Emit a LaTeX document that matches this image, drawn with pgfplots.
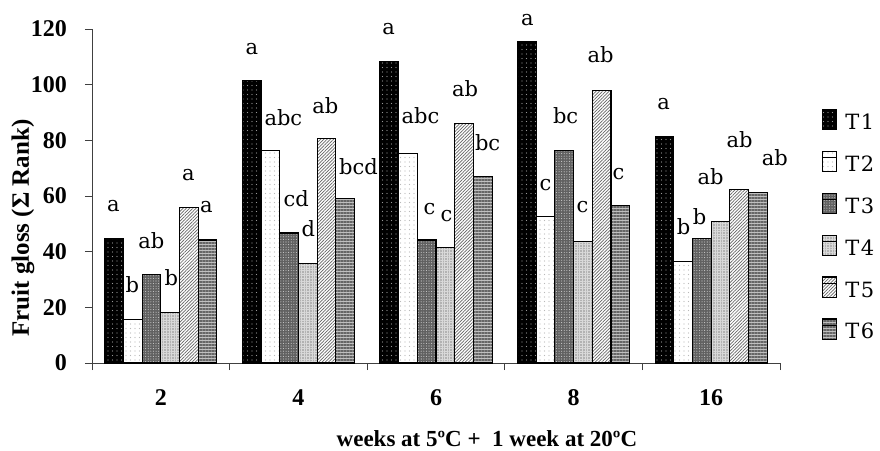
\documentclass[border=0pt]{standalone}
\usepackage{fontspec}
\setmainfont{Liberation Serif}
\newfontfamily\lblfont{DejaVu Serif}
\usepackage{pgfplots}
\pgfplotsset{compat=1.18}
\usetikzlibrary{patterns.meta}
\tikzset{lbl/.style={font=\lblfont\fontsize{21}{21}\selectfont, anchor=base, inner sep=0pt}}

\begin{document}
\begin{tikzpicture}[x=1pt,y=1pt]
\useasboundingbox (0,0) rectangle (880,450);
\begin{axis}[
  at={(92pt,87pt)}, anchor=south west,
  scale only axis, width=688pt, height=334pt,
  xmin=-0.5, xmax=4.5, ymin=0, ymax=120,
  axis lines*=left,
  axis line style={line width=0.8pt, black!75},
  clip=false,
  ybar=0pt, bar width=18.7pt,
  xtick={-0.5,0.5,1.5,2.5,3.5,4.5}, xticklabels={},
  extra x ticks={0,1,2,3,4}, extra x tick labels={2,4,6,8,16},
  extra x tick style={tick style={draw=none}},
  ytick={0,20,...,120},
  /pgf/number format/assume math mode=true,
  tick align=outside, major tick length=7pt,
  tick style={line width=0.8pt, black!75},
  ticklabel style={font=\fontsize{24}{24}\selectfont\bfseries},
  yticklabel style={anchor=east, inner sep=0pt, xshift=-18pt},
  xticklabel style={anchor=center, inner sep=0pt, yshift=-28pt},
  xlabel={weeks at 5ºC +\ \ 1 week at 20ºC},
  xlabel style={font=\fontsize{23}{23}\selectfont\bfseries, at={(axis description cs:0.574,-0.225)}, anchor=center},
  ylabel={Fruit gloss (Σ Rank)},
  ylabel style={font=\fontsize{25}{25}\selectfont\bfseries, at={(axis description cs:-0.1003,0.404)}, anchor=center, rotate=0},
  legend style={at={(axis description cs:1.061,0.762)}, anchor=north west, draw=none, fill=none, inner sep=0pt,
    font=\lblfont\fontsize{21}{21}\selectfont,
    nodes={inner sep=0pt, text height=15pt, text depth=0pt},
    row sep=21.4pt,
    /tikz/every odd column/.append style={column sep=8pt}},
  legend cell align=left,
  legend image code/.code={\path (0pt,-1.5pt) rectangle (14pt,12.5pt);
    \draw[#1, line width=0.8pt, overlay] (0pt,-7.5pt) rectangle (14pt,6.5pt);},
]
\addplot[draw=black, line width=1.1pt, fill=black, postaction={pattern={Dots[distance=4.5pt, radius=0.6pt]}, pattern color=gray!80}]
  coordinates {(0,44.8) (1,101.5) (2,108.2) (3,115.4) (4,81.5)};
\addplot[draw=black, line width=1.1pt, fill=white, postaction={pattern={Dots[distance=4.5pt, radius=0.6pt]}, pattern color=gray!55}]
  coordinates {(0,15.5) (1,76.2) (2,75.4) (3,52.5) (4,36.4)};
\addplot[draw=black, line width=1.1pt, fill=black!62, postaction={pattern={Dots[distance=2.6pt, radius=0.55pt]}, pattern color=gray!40}]
  coordinates {(0,31.9) (1,46.7) (2,44.2) (3,76.2) (4,44.8)};
\addplot[draw=black, line width=1.1pt, fill=black!30, postaction={pattern={Hatch[distance=2.6pt, line width=0.7pt]}, pattern color=white!85!black}]
  coordinates {(0,18.2) (1,35.8) (2,41.5) (3,43.6) (4,50.8)};
\addplot[draw=black, line width=1.1pt, fill=white, postaction={pattern={Lines[angle=45, distance=2.3pt, line width=0.7pt]}, pattern color=black!60}]
  coordinates {(0,55.9) (1,80.7) (2,85.9) (3,97.8) (4,62.4)};
\addplot[draw=black, line width=1.1pt, fill=black!25, postaction={pattern={Lines[angle=0, distance=3pt, line width=1.2pt]}, pattern color=black!60}]
  coordinates {(0,44.2) (1,59.2) (2,67.0) (3,56.5) (4,61.2)};
\legend{T\kern1.5pt1,T\kern1.5pt2,T\kern1.5pt3,T\kern1.5pt4,T\kern1.5pt5,T\kern1.5pt6}
% group 2
\node[lbl] at (axis cs:-0.345,54.3) {a};
\node[lbl] at (axis cs:-0.207,25.5) {b};
\node[lbl] at (axis cs:-0.069,41.3) {ab};
\node[lbl] at (axis cs:0.076,27.7) {b};
\node[lbl] at (axis cs:0.200,65.4) {a};
\node[lbl] at (axis cs:0.331,53.9) {a};
% group 4
\node[lbl] at (axis cs:0.662,111.0) {a};
\node[lbl] at (axis cs:0.891,85.5) {abc};
\node[lbl] at (axis cs:0.985,56.4) {cd};
\node[lbl] at (axis cs:1.073,45.3) {d};
\node[lbl] at (axis cs:1.196,89.8) {ab};
\node[lbl] at (axis cs:1.436,67.9) {bcd};
% group 6
\node[lbl] at (axis cs:1.655,117.9) {a};
\node[lbl] at (axis cs:1.887,85.9) {abc};
\node[lbl] at (axis cs:1.953,53.5) {c};
\node[lbl] at (axis cs:2.076,51.0) {c};
\node[lbl] at (axis cs:2.211,95.6) {ab};
\node[lbl] at (axis cs:2.375,76.5) {bc};
% group 8
\node[lbl] at (axis cs:2.665,121.1) {a};
\node[lbl] at (axis cs:2.796,61.8) {c};
\node[lbl] at (axis cs:2.942,85.9) {bc};
\node[lbl] at (axis cs:3.065,53.9) {c};
\node[lbl] at (axis cs:3.196,107.8) {ab};
\node[lbl] at (axis cs:3.327,65.8) {c};
% group 16
\node[lbl] at (axis cs:3.655,90.9) {a};
\node[lbl] at (axis cs:3.800,46.0) {b};
\node[lbl] at (axis cs:3.916,49.6) {b};
\node[lbl] at (axis cs:3.996,64.0) {ab};
\node[lbl] at (axis cs:4.207,77.3) {ab};
\node[lbl] at (axis cs:4.462,71.1) {ab};
\end{axis}
\end{tikzpicture}
\end{document}
